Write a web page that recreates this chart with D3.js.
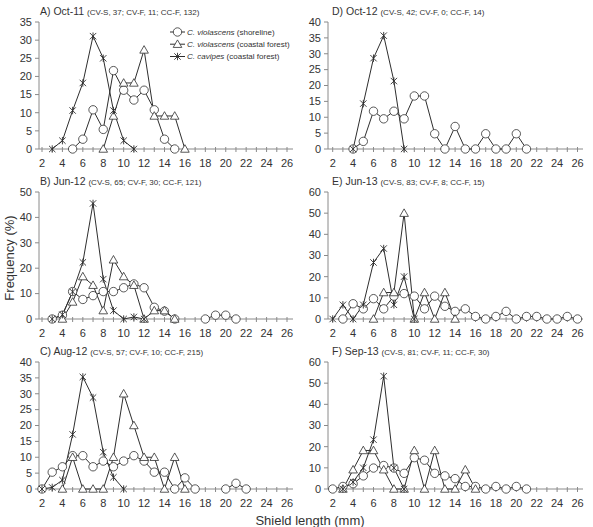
<!DOCTYPE html>
<html><head><meta charset="utf-8">
<script src="https://cdn.jsdelivr.net/npm/d3@7"></script>
<style>body{margin:0;background:#fff}svg{display:block;font-family:"Liberation Sans",Arial,sans-serif}</style>
</head><body><svg id="c" width="593" height="527"></svg>
<script>
// ---------- DATA ----------
const seriesNames = ["C. violascens", "C. violascens", "C. cavipes"];
const seriesHabitats = [" (shoreline)", " (coastal forest)", " (coastal forest)"];
const xTickLabels = [2,4,6,8,10,12,14,16,18,20,22,24,26];
const xMinorTicks = [2,3,4,5,6,7,8,9,10,11,12,13,14,15,16,17,18,19,20,21,22,23,24,25,26];

const panelTitles = ["A) Oct-11","B) Jun-12","C) Aug-12","D) Oct-12","E) Jun-13","F) Sep-13"];
const panelSubtitles = ["(CV-S, 37; CV-F, 11; CC-F, 132)","(CV-S, 65; CV-F, 30; CC-F, 121)","(CV-S, 57; CV-F, 10; CC-F, 215)",
  "(CV-S, 42; CV-F, 0; CC-F, 14)","(CV-S, 83; CV-F, 8; CC-F, 15)","(CV-S, 81; CV-F, 11; CC-F, 30)"];
const panelYMax = [35,50,40,40,60,60];
const panelYStep = [5,10,5,5,10,10];

// A) Oct-11
const A_shore = [[5,0],[6,2.7],[7,10.8],[8,5.4],[9,21.6],[10,16.2],[11,13.5],[12,16.2],[13,10.8],[14,2.7],[15,0]];
const A_forest = [[8,0],[9,9.1],[10,18.2],[11,18.2],[12,27.3],[13,9.1],[14,9.1],[15,9.1],[16,0]];
const A_cavipes = [[3,0],[4,2.3],[5,10.6],[6,18.2],[7,31.1],[8,25.0],[9,10.6],[10,2.3],[11,0]];
// B) Jun-12
const B_shore = [[3,0],[4,1.5],[5,10.8],[6,7.7],[7,9.2],[8,10.8],[9,10.8],[10,12.3],[11,13.8],[12,12.3],[13,4.6],[14,3.1],[15,0],[16,null],[17,null],[18,0],[19,1.5],[20,1.5],[21,0]];
const B_forest = [[4,0],[5,6.7],[6,16.7],[7,13.3],[8,3.3],[9,23.3],[10,16.7],[11,13.3],[12,0],[13,3.3],[14,3.3],[15,0]];
const B_cavipes = [[3,0],[4,1.7],[5,10.7],[6,22.3],[7,45.5],[8,15.7],[9,3.3],[10,0],[11,0.8],[12,0]];
// C) Aug-12
const C_shore = [[2,0],[3,5.3],[4,7.0],[5,10.5],[6,10.5],[7,7.0],[8,8.8],[9,7.0],[10,8.8],[11,10.5],[12,8.8],[13,5.3],[14,5.3],[15,0],[16,3.5],[17,0],[18,null],[19,null],[20,0],[21,1.8],[22,0]];
const C_forest = [[4,0],[5,10],[6,0],[7,0],[8,0],[9,10],[10,30],[11,20],[12,10],[13,10],[14,0],[15,10],[16,0]];
const C_cavipes = [[2,0],[3,0.5],[4,2.8],[5,17.2],[6,35.3],[7,28.8],[8,11.6],[9,3.7],[10,0]];
// D) Oct-12
const D_shore = [[4,0],[5,2.4],[6,11.9],[7,9.5],[8,11.9],[9,9.5],[10,16.7],[11,16.7],[12,4.8],[13,0],[14,7.1],[15,0],[16,0],[17,4.8],[18,0],[19,0],[20,4.8],[21,0]];
const D_forest = [];
const D_cavipes = [[4,0],[5,14.3],[6,28.6],[7,35.7],[8,21.4],[9,0]];
// E) Jun-13
const E_shore = [[3,0],[4,7.2],[5,4.8],[6,9.6],[7,4.8],[8,10.8],[9,12.0],[10,10.8],[11,4.8],[12,10.8],[13,6.0],[14,3.6],[15,4.8],[16,1.2],[17,0],[18,1.2],[19,3.6],[20,0],[21,1.2],[22,1.2],[23,0],[24,0],[25,1.2],[26,0]];
const E_forest = [[6,0],[7,12.5],[8,12.5],[9,50],[10,0],[11,12.5],[12,0],[13,12.5],[14,0]];
const E_cavipes = [[2,0],[3,6.7],[4,0],[5,6.7],[6,26.7],[7,33.3],[8,6.7],[9,20],[10,0]];
// F) Sep-13
const F_shore = [[2,0],[3,1.2],[4,2.5],[5,6.2],[6,9.9],[7,11.1],[8,9.9],[9,7.4],[10,14.8],[11,13.6],[12,7.4],[13,6.2],[14,4.9],[15,1.2],[16,1.2],[17,0],[18,1.2],[19,0],[20,1.2],[21,0]];
const F_forest = [[3,0],[4,9.1],[5,18.2],[6,18.2],[7,9.1],[8,0],[9,0],[10,18.2],[11,0],[12,18.2],[13,0],[14,0],[15,9.1],[16,0]];
const F_cavipes = [[3,0],[4,3.3],[5,10],[6,23.3],[7,53.3],[8,10],[9,0]];

const panelData = [
  [A_shore, A_forest, A_cavipes],
  [B_shore, B_forest, B_cavipes],
  [C_shore, C_forest, C_cavipes],
  [D_shore, D_forest, D_cavipes],
  [E_shore, E_forest, E_cavipes],
  [F_shore, F_forest, F_cavipes]
];

// ---------- LAYOUT ----------
const cols = [
  {axisX: 39, r0: 42, r1: 287, end: 293, titleX: 40},
  {axisX: 328, r0: 332.7, r1: 577.5, end: 583, titleX: 332}
];
const rows = [{y0: 149, yTop: 22}, {y0: 319, yTop: 192}, {y0: 489, yTop: 362}];
const lineCol = "#2e2e2e", axisCol = "#8a8a8a", textCol = "#333";

const svg = d3.select("#c");

function marker(g, type, cx, cy) {
  if (type === 0) {
    g.append("circle").attr("cx", cx).attr("cy", cy).attr("r", 4.2)
      .attr("fill", "#fff").attr("stroke", lineCol).attr("stroke-width", 0.8);
  } else if (type === 1) {
    const s = 4.3;
    g.append("path").attr("d", `M${cx},${cy - s}L${cx + s},${cy + s * 0.75}L${cx - s},${cy + s * 0.75}Z`)
      .attr("fill", "#fff").attr("stroke", lineCol).attr("stroke-width", 0.8);
  } else {
    const s = 3.2;
    g.append("path").attr("d", `M${cx - s},${cy - s}L${cx + s},${cy + s}M${cx - s},${cy + s}L${cx + s},${cy - s}M${cx},${cy - s - 0.5}L${cx},${cy + s + 0.5}`)
      .attr("fill", "none").attr("stroke", lineCol).attr("stroke-width", 0.9);
  }
}

panelData.forEach((series, i) => {
  const col = cols[Math.floor(i / 3)], row = rows[i % 3];
  const x = d3.scaleLinear().domain([2, 26]).range([col.r0, col.r1]);
  const y = d3.scaleLinear().domain([0, panelYMax[i]]).range([row.y0, row.yTop]);
  const g = svg.append("g");

  // y axis
  g.append("line").attr("x1", col.axisX).attr("x2", col.axisX).attr("y1", row.y0).attr("y2", row.yTop)
    .attr("stroke", axisCol).attr("stroke-width", 1);
  const yTicks = d3.range(0, panelYMax[i] + 0.001, panelYStep[i]);
  yTicks.forEach(t => {
    g.append("line").attr("x1", col.axisX - 4).attr("x2", col.axisX).attr("y1", y(t)).attr("y2", y(t))
      .attr("stroke", axisCol).attr("stroke-width", 1);
    g.append("text").attr("x", col.axisX - 7).attr("y", y(t)).attr("dy", "0.35em")
      .attr("text-anchor", "end").attr("font-size", 11).attr("fill", textCol).text(t);
  });
  // x axis
  g.append("line").attr("x1", col.axisX).attr("x2", col.end).attr("y1", row.y0).attr("y2", row.y0)
    .attr("stroke", axisCol).attr("stroke-width", 1);
  xMinorTicks.forEach(t => {
    g.append("line").attr("x1", x(t)).attr("x2", x(t)).attr("y1", row.y0 - 2).attr("y2", row.y0 + 3)
      .attr("stroke", axisCol).attr("stroke-width", 1);
  });
  xTickLabels.forEach(t => {
    g.append("text").attr("x", x(t)).attr("y", row.y0 + 18)
      .attr("text-anchor", "middle").attr("font-size", 11).attr("fill", textCol).text(t);
  });

  // title
  const tt = g.append("text").attr("x", col.titleX).attr("y", row.yTop - 7).attr("fill", textCol);
  tt.append("tspan").attr("font-size", 10.5).text(panelTitles[i] + " ");
  tt.append("tspan").attr("font-size", 8).text(panelSubtitles[i]);

  // series
  const line = d3.line().defined(d => d[1] != null).x(d => x(d[0])).y(d => y(d[1]));
  series.forEach((data, k) => {
    if (!data.length) return;
    g.append("path").attr("d", line(data)).attr("fill", "none")
      .attr("stroke", lineCol).attr("stroke-width", 1);
  });
  series.forEach((data, k) => {
    data.filter(d => d[1] != null).forEach(d => marker(g, k, x(d[0]), y(d[1])));
  });

  // legend in panel A
  if (i === 0) {
    const ly = [32, 44.2, 56.5];
    seriesNames.forEach((nm, k) => {
      g.append("line").attr("x1", 170).attr("x2", 185).attr("y1", ly[k]).attr("y2", ly[k])
        .attr("stroke", lineCol).attr("stroke-width", 1);
      marker(g, k, 177.5, ly[k]);
      const t = g.append("text").attr("x", 187).attr("y", ly[k]).attr("dy", "0.35em")
        .attr("font-size", 8).attr("fill", textCol);
      t.append("tspan").attr("font-style", "italic").text(nm);
      t.append("tspan").text(seriesHabitats[k]);
    });
  }
});

// axis titles
svg.append("text").attr("x", 310).attr("y", 525).attr("text-anchor", "middle")
  .attr("font-size", 13).attr("fill", textCol).text("Shield length (mm)");
svg.append("text").attr("transform", "translate(14,258) rotate(-90)").attr("text-anchor", "middle")
  .attr("font-size", 13).attr("fill", textCol).text("Frequency (%)");
</script></body></html>
